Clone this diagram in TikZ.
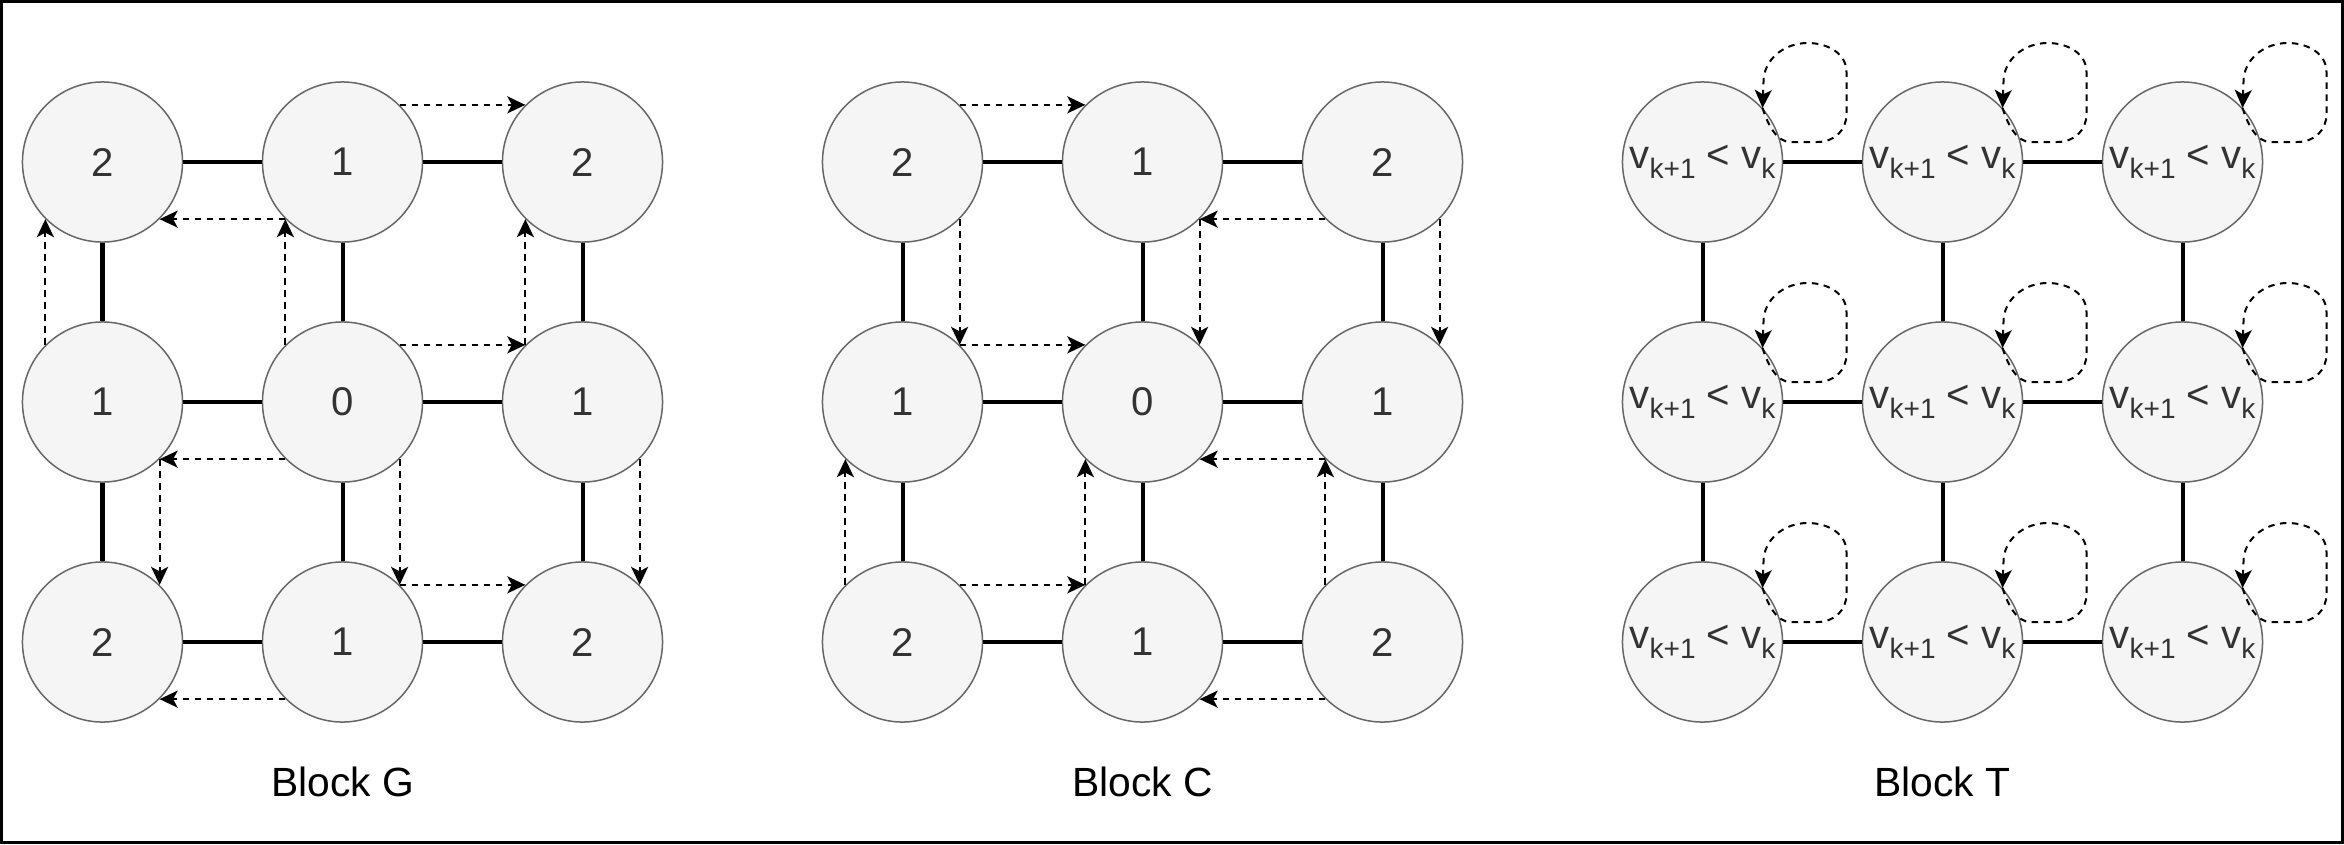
\documentclass[tikz,border=0pt]{standalone}
\usepackage{fontspec}
\setmainfont{Liberation Sans}
\usetikzlibrary{arrows.meta}
\definecolor{nodefill}{HTML}{F5F5F5}
\definecolor{nodeline}{HTML}{666666}
\definecolor{nodetext}{HTML}{333333}
\newcommand\tlabeltext{v\raisebox{-0.25em}{\fontsize{8}{9}\selectfont k+1} {<} v\raisebox{-0.25em}{\fontsize{8}{9}\selectfont k}}
\begin{document}
\begin{tikzpicture}[x=0.01cm,y=0.01cm,
  cell/.style={circle, minimum size=1.6cm, inner sep=0pt, fill=nodefill, draw=nodeline,
    line width=0.015cm, text=nodetext, font=\fontsize{11.4}{13}\selectfont},
  link/.style={line width=0.04cm},
  flow/.style={line width=0.02cm, dash pattern=on 0.065cm off 0.055cm,
    -{Stealth[length=0.18cm,width=0.17cm,inset=0.045cm]}},
  caption/.style={font=\fontsize{11.6}{13}\selectfont, anchor=base}
]
\useasboundingbox (0,0) rectangle (2344,844);
\draw[line width=0.03cm] (1.5,1.5) rectangle (2342.5,842.5);

\foreach \c/\r/\v in {0/0/2,1/0/1,2/0/2,0/1/1,1/1/0,2/1/1,0/2/2,1/2/1,2/2/2} {
  \node[cell] (g\c\r) at (102.5+240*\c, 682-240*\r) {\v};
  \node[cell] (c\c\r) at (902.5+240*\c, 682-240*\r) {\v};
  \node[cell] (t\c\r) at (1702.5+240*\c, 682-240*\r) {\tlabeltext};
}

% solid grid links
\foreach \b in {g,c,t} {
  \foreach \r in {0,1,2} {
    \draw[link] (\b0\r) -- (\b1\r);
    \draw[link] (\b1\r) -- (\b2\r);
  }
  \foreach \c in {0,1,2} {
    \draw[link] (\b\c0) -- (\b\c1);
    \draw[link] (\b\c1) -- (\b\c2);
  }
}

% Block G flows
\draw[flow] (g10.45) -- (g20.135);
\draw[flow] (g10.225) -- (g00.315);
\draw[flow] (g01.135) -- (g00.225);
\draw[flow] (g11.135) -- (g10.225);
\draw[flow] (g11.45) -- (g21.135);
\draw[flow] (g21.135) -- (g20.225);
\draw[flow] (g11.225) -- (g01.315);
\draw[flow] (g01.315) -- (g02.45);
\draw[flow] (g11.315) -- (g12.45);
\draw[flow] (g12.45) -- (g22.135);
\draw[flow] (g21.315) -- (g22.45);
\draw[flow] (g12.225) -- (g02.315);

% Block C flows
\draw[flow] (c00.45) -- (c10.135);
\draw[flow] (c20.225) -- (c10.315);
\draw[flow] (c00.315) -- (c01.45);
\draw[flow] (c01.45) -- (c11.135);
\draw[flow] (c10.315) -- (c11.45);
\draw[flow] (c20.315) -- (c21.45);
\draw[flow] (c21.225) -- (c11.315);
\draw[flow] (c02.135) -- (c01.225);
\draw[flow] (c02.45) -- (c12.135);
\draw[flow] (c12.135) -- (c11.225);
\draw[flow] (c22.135) -- (c21.225);
\draw[flow] (c22.225) -- (c12.315);

% Block T self loops
\foreach \n in {t00,t10,t20,t01,t11,t21,t02,t12,t22} {
  \draw[flow, shift={(\n.center)}] (\n.42) .. controls (66,35) and (75,20) .. (88,20)
    -- (115,20) .. controls (132,20) and (144,32) .. (144,48)
    -- (144,90) .. controls (144,108) and (126,119) .. (105,119)
    .. controls (82,119) and (61,103) .. (61,80) -- (\n.42);
}

\node[caption] (lg) at (342.5,48) {Block G};
\node[caption] (lc) at (1142.5,48) {Block C};
\node[caption] (lt) at (1942.5,48) {Block T};
\end{tikzpicture}
\end{document}
